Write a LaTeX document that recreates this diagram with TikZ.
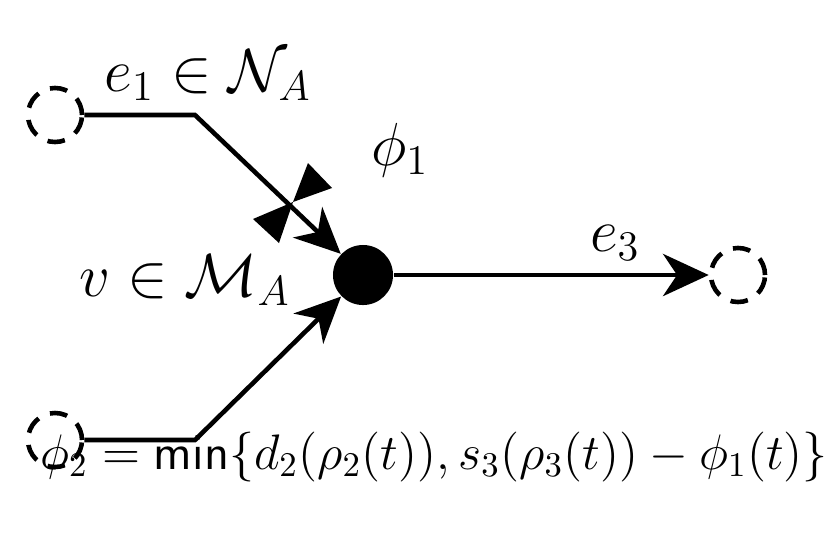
\documentclass[tikz,border=0pt]{standalone}
\usetikzlibrary{arrows.meta}
\begin{document}
\begin{tikzpicture}[x=0.01cm,y=-0.01cm,
  ln/.style={line width=1.3pt},
  arr/.style={ln,-{Stealth[length=13pt,width=12pt,inset=4pt]}},
  port/.style={circle,draw,line width=1.3pt,minimum size=0.54cm,inner sep=0pt,dash pattern=on 5pt off 3.5pt},
  lbl/.style={font=\LARGE}]
\useasboundingbox (0,0) rectangle (828,548);
\node[port] (p1) at (55,115) {};
\node[port] (p2) at (55,440) {};
\node[port] (p3) at (738,275) {};
\node[circle,fill,minimum size=0.6cm,inner sep=0pt] (v) at (363,275) {};
\coordinate (k1) at (195,115);
\coordinate (k2) at (195,440);
\draw[arr] (p1.east) -- (k1) -- (v);
\draw[arr] (p2.east) -- (k2) -- (v);
\draw[arr] (v) -- (p3.west);
\coordinate (c) at (293,202);
\fill (c) -- (308,163) -- (332,188) -- cycle;
\fill (c) -- (253,219) -- (279,243) -- cycle;
\node[lbl] (t1) at (208,75) {$e_1\in\mathcal{N}_A$};
\node[lbl] (t2) at (400,150) {$\phi_1$};
\node[lbl] (t3) at (185,280) {$v\in\mathcal{M}_A$};
\node[lbl] (t4) at (615,243) {$e_3$};
\node[font=\Large,scale=0.985] (t5) at (434,457) {$\phi_2=\mathsf{min}\{d_2(\rho_2(t)),s_3(\rho_3(t))-\phi_1(t)\}$};
\end{tikzpicture}
\end{document}
